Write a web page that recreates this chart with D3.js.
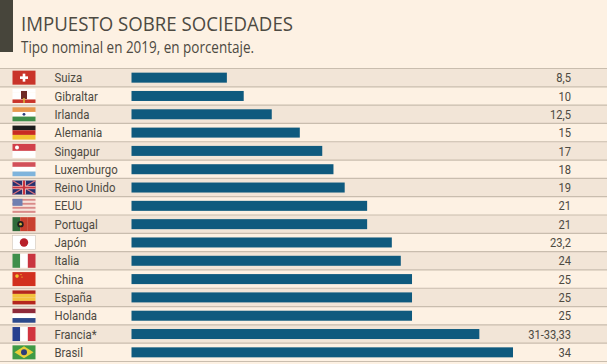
<!DOCTYPE html>
<html><head><meta charset="utf-8">
<script src="https://cdn.jsdelivr.net/npm/d3@7/dist/d3.min.js"></script>
<style>
html,body{margin:0;padding:0;background:#fdf1e3}
svg{display:block}
text{fill:#4d4a42}
</style></head><body>
<svg id="c" width="607" height="364"></svg>
<script>
const categories=["Suiza","Gibraltar","Irlanda","Alemania","Singapur","Luxemburgo","Reino Unido","EEUU","Portugal","Japón","Italia","China","España","Holanda","Francia*","Brasil"];
const values=[8.5,10,12.5,15,17,18,19,21,21,23.2,24,25,25,25,31,34];
const valueLabels=["8,5","10","12,5","15","17","18","19","21","21","23,2","24","25","25","25","31-33,33","34"];
const flagStripes=[
 ["h","#c9342a"],["h","#fff","#fff","#fff","#c9342a"],["h","#e8994f","#fff","#3f8f4a"],["h","#1c1c1c","#c92b22","#f2c230"],
 ["h","#d1404a","#fff"],["h","#d2505a","#fff","#7fb4dc"],["h","#26306e"],["h","#d98a88","#f7e3dc","#d98a88","#f7e3dc","#d98a88","#f7e3dc","#d98a88"],
 ["v","#2f6b3a","#c9402f","#c9402f"],["h","#fff"],["v","#3f8f4a","#fff","#c9343f"],["h","#d2301f"],
 ["h","#b5261e","#f3c23d","#f3c23d","#b5261e"],["h","#8e2a3a","#fff","#2c4a8c"],["v","#27408f","#fff","#d1343f"],["h","#3f9a45"]];
const title="IMPUESTO SOBRE SOCIEDADES", subtitle="Tipo nominal en 2019, en porcentaje.";

const svg=d3.select("#c");
const x=d3.scaleLinear().domain([0,34]).range([131.5,513]);
const y=d3.scaleBand().domain(categories).range([68.5,361.5]);
const flagW=23,flagH=14,flagX=12.5;

svg.append("rect").attr("x",0).attr("y",0).attr("width",13).attr("height",52).attr("fill","#47453b");
svg.append("text").attr("x",21).attr("y",31).attr("font-family","'Open Sans'").attr("font-size",19.8).attr("font-weight",500).attr("textLength",272).attr("lengthAdjust","spacingAndGlyphs").text(title);
svg.append("text").attr("x",21).attr("y",53).attr("font-family","'Open Sans'").attr("font-size",15.4).attr("textLength",233).attr("lengthAdjust","spacingAndGlyphs").text(subtitle);

const row=svg.selectAll("g.row").data(categories).join("g").attr("class","row")
  .attr("transform",d=>`translate(0,${y(d)})`);
const h=y.bandwidth();
row.append("rect").attr("width",607).attr("height",h).attr("fill",(d,i)=>i%2===0?"#f2e5d7":"#fdf1e3");
row.append("line").attr("x1",0).attr("x2",607).attr("y1",0).attr("y2",0).attr("stroke","#c9bdae").attr("stroke-width",1.2);
row.append("rect").attr("x",x(0)).attr("y",h/2-5).attr("width",(d,i)=>x(values[i])-x(0)).attr("height",10).attr("fill","#0f5a7e");
row.append("text").attr("transform",`translate(54.5,${h/2+4.6}) scale(.84,1)`).attr("font-family","Roboto").attr("font-weight",400).attr("font-size",13.6).text(d=>d);
row.append("text").attr("transform",`translate(571,${h/2+4.6}) scale(.82,1)`).attr("text-anchor","end").attr("font-family","Roboto").attr("font-weight",400).attr("font-size",13.6).text((d,i)=>valueLabels[i]);

// flags
row.each(function(d,i){
  const g=d3.select(this).append("g").attr("transform",`translate(${flagX},${h/2-flagH/2})`);
  const dir=flagStripes[i][0], cols=flagStripes[i].slice(1), n=cols.length;
  const b=d3.scaleBand().domain(d3.range(n)).range([0,dir==="h"?flagH:flagW]);
  g.selectAll("rect.s").data(cols).join("rect").attr("class","s")
    .attr("x",(c,k)=>dir==="v"?b(k):0).attr("y",(c,k)=>dir==="h"?b(k):0)
    .attr("width",dir==="v"?b.bandwidth():flagW).attr("height",dir==="h"?b.bandwidth():flagH).attr("fill",c=>c);
  const name=d;
  const cx=flagW/2,cy=flagH/2;
  const r=(a,b2,w,hh,c)=>g.append("rect").attr("x",a).attr("y",b2).attr("width",w).attr("height",hh).attr("fill",c);
  const c=(a,b2,rad,col)=>g.append("circle").attr("cx",a).attr("cy",b2).attr("r",rad).attr("fill",col);
  if(name==="Suiza"){r(cx-4,cy-1.3,8,2.6,"#fff");r(cx-1.3,cy-4,2.6,8,"#fff");}
  if(name==="Gibraltar"){r(cx-3,2,6,8,"#6e2a25");r(cx-.8,9,1.6,5,"#d8b23a");}
  if(name==="Irlanda"){c(cx,cy,1.4,"#2c3d7a");}
  if(name==="Singapur"){c(4.5,3.5,2,"#fff");}
  if(name==="Reino Unido"){
    g.append("path").attr("d",`M0 0L${flagW} ${flagH}M${flagW} 0L0 ${flagH}`).attr("stroke","#d9707a").attr("stroke-width",1.3);
    r(0,cy-1.6,flagW,3.2,"#f6e3e0");r(cx-1.8,0,3.6,flagH,"#f6e3e0");
    r(0,cy-1,flagW,2,"#c9343f");r(cx-1.1,0,2.2,flagH,"#c9343f");}
  if(name==="EEUU"){r(0,0,10,7,"#6f7fb0");}
  if(name==="Portugal"){c(8,cy,3.2,"#1f1f1f");c(8,cy,1.3,"#d4b13a");}
  if(name==="Japón"){c(cx,cy,4.2,"#b8202a");g.append("rect").attr("width",flagW).attr("height",flagH).attr("fill","none").attr("stroke","#cfc7bb").attr("stroke-width",.6);}
  if(name==="China"){c(4.5,4,1.8,"#f2c230");c(8.5,2.5,.7,"#f2c230");c(9.5,5,.7,"#f2c230");}
  if(name==="Brasil"){g.append("path").attr("d",`M${cx} 1L${flagW-2} ${cy}L${cx} ${flagH-1}L2 ${cy}Z`).attr("fill","#e8cf3a");c(cx,cy,3,"#2c3d7a");}
});
svg.append("line").attr("x1",0).attr("x2",607).attr("y1",361.5).attr("y2",361.5).attr("stroke","#c9bdae").attr("stroke-width",1.2);
</script></body></html>
